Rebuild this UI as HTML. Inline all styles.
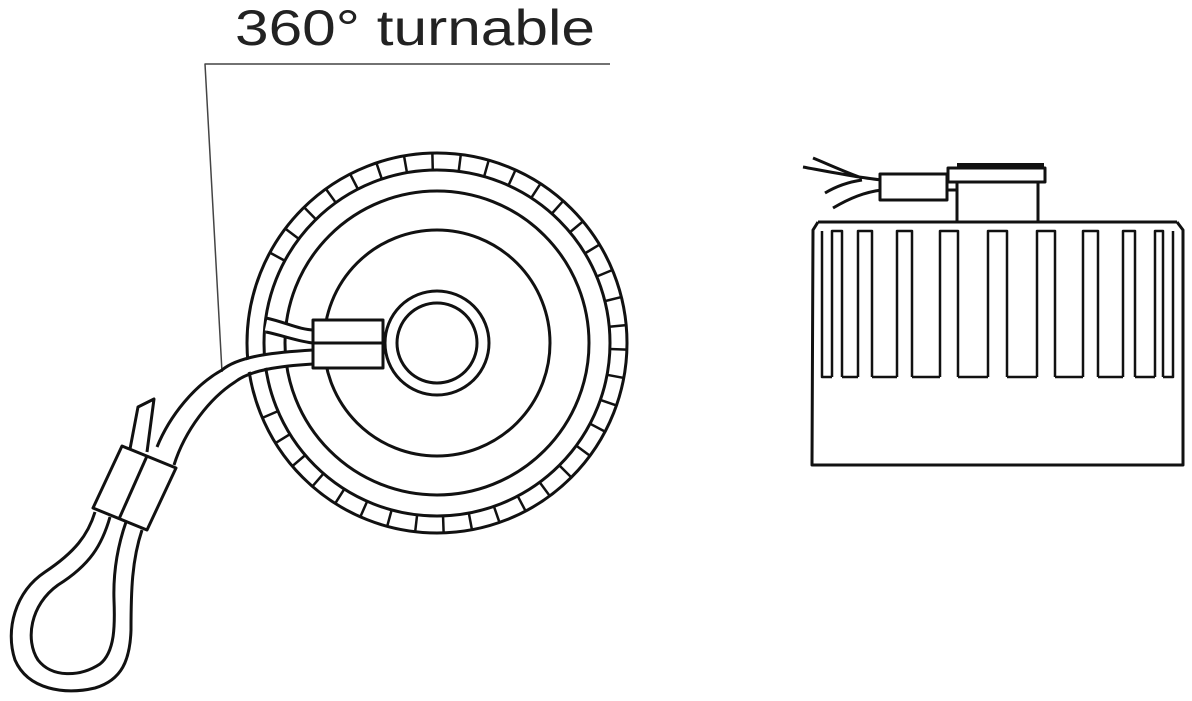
<!DOCTYPE html>
<html><head><meta charset="utf-8"><style>
html,body{margin:0;padding:0;background:#fff;width:1192px;height:701px;overflow:hidden}
svg{display:block}
</style></head><body>
<svg id="s" width="1192" height="701" viewBox="0 0 1192 701" xmlns="http://www.w3.org/2000/svg" fill="none" stroke="#111" stroke-width="3" stroke-linejoin="round">
<text x="235" y="45" font-family="Liberation Sans, Arial, sans-serif" font-size="50" fill="#222" stroke="none" textLength="360" lengthAdjust="spacingAndGlyphs">360° turnable</text>
<polyline points="610,64 205,64 222,372" stroke-width="1.5" stroke="#444"/>
<!-- circle view -->
<circle cx="437" cy="343" r="190"/>
<circle cx="437" cy="343" r="173"/>
<g id="ticks" stroke-width="2.5"></g>
<circle cx="437" cy="343" r="152"/>
<circle cx="437" cy="343" r="113"/>
<circle cx="437" cy="343" r="52" fill="#fff"/>
<circle cx="437" cy="343" r="40"/>
<!-- small wire into circle -->
<path d="M266,325 C285,329 300,336 314,337" stroke="#fff" stroke-width="11" stroke-linejoin="round"/>
<path d="M266,318 C285,322 300,330 314,330 M266,332 C285,336 300,342 314,343" fill="none"/>
<!-- cable -->
<path d="M313,357 C280,359 245,362 228,376 C202,392 177,422 165,456" stroke="#fff" stroke-width="12"/>
<path d="M313,350 C280,352 240,355 222,370 C195,385 170,415 157,447" fill="none"/>
<path d="M313,364 C280,366 250,370 235,382 C210,398 185,430 174,465" fill="none"/>
<rect x="313" y="320" width="70" height="23" fill="#fff"/>
<rect x="313" y="343" width="70" height="25" fill="#fff"/>
<!-- tail -->
<path d="M130,449 L138,407 L154,399 L147,452" fill="#fff"/>
<!-- loop -->
<path d="M95,512 C88,535 75,552 45,572 C15,592 5,630 15,660 C28,690 65,695 95,688 C122,680 130,660 131,630 C131,590 132,560 142,530" fill="none"/>
<path d="M110,517 C102,545 90,565 58,585 C30,605 25,640 38,660 C52,678 80,677 100,664 C115,652 115,625 114,600 C113,570 118,545 126,522" fill="none"/>
<!-- ferrule -->
<polygon points="122,446 176,468 147,530 93,508" fill="#fff"/>
<line x1="147" y1="456" x2="119" y2="519"/>
<!-- side view -->
<path d="M803,167 C830,172 860,178 882,180 M813,158 C830,165 845,172 862,178 M825,193 C835,187 848,182 862,180 M833,208 C850,198 865,192 882,190" fill="none"/>
<rect x="880" y="174" width="67" height="26" fill="#fff"/>
<rect x="957" y="182" width="81" height="40" fill="#fff"/>
<rect x="948" y="168" width="97" height="14" fill="#fff"/>
<line x1="957" y1="165" x2="1044" y2="165" stroke-width="4"/>
<line x1="947" y1="190" x2="957" y2="190"/>
<path d="M818,222 L1177,222 M818,222 L813,230 L812,465 L1183,465 L1183,230 L1177,222"/>
<g id="fins" stroke-width="2.5"></g>
</svg>
<script>
var ns="http://www.w3.org/2000/svg";
var t=document.getElementById("ticks");
for(var a=2;a<360;a+=8.6){if(a>165&&a<200)continue;var r=a*Math.PI/180;var l=document.createElementNS(ns,"line");
l.setAttribute("x1",437+173*Math.cos(r));l.setAttribute("y1",343+173*Math.sin(r));
l.setAttribute("x2",437+190*Math.cos(r));l.setAttribute("y2",343+190*Math.sin(r));t.appendChild(l);}
var f=document.getElementById("fins");
var sl=[[832,842],[858,872],[897,912],[940,958],[988,1007],[1037,1055],[1083,1098],[1123,1135],[1155,1163]];
sl.forEach(function(p){var e=document.createElementNS(ns,"path");
e.setAttribute("d","M"+p[0]+",377 L"+p[0]+",231 L"+p[1]+",231 L"+p[1]+",377");f.appendChild(e);});
var b=document.createElementNS(ns,"path");
var d="M822,231 L822,377";for(var i=0;i<sl.length;i++){d+=" L"+sl[i][0]+",377";d+=" M"+sl[i][1]+",377";}
d+=" L1173,377 L1173,231";b.setAttribute("d",d);f.appendChild(b);
</script>
</body></html>
